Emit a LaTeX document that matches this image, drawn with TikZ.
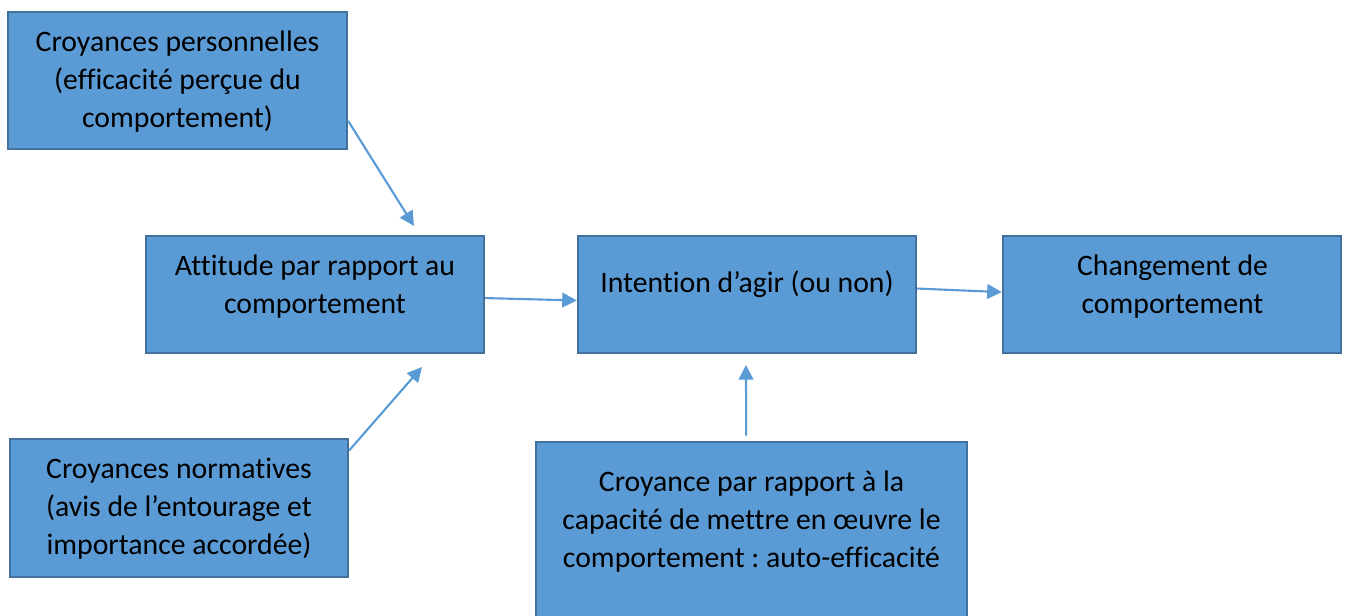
\documentclass[tikz,border=0pt]{standalone}
\usepackage{fontspec}
\setmainfont{Carlito}[Ligatures=NoCommon]
\usepackage{tikz}
\usetikzlibrary{arrows.meta}
\usetikzlibrary{calc}
\usetikzlibrary{fit}
\definecolor{boxfill}{HTML}{5B9BD5}
\definecolor{boxline}{HTML}{41719C}
\frenchspacing

\begin{document}
\begin{tikzpicture}[x=0.75pt,y=-0.75pt,
    box/.style={draw=boxline, fill=boxfill, line width=1.7pt, inner sep=0pt},
    txt/.style={align=center, anchor=north, inner sep=0pt, font=\fontsize{22.3}{28.5}\selectfont},
    arr/.style={draw=boxfill, line width=1.6pt, -{Triangle[length=11pt,width=11pt]}}]
    \useasboundingbox (0,0) rectangle (1347,615);
    \clip (0,0) rectangle (1347,615);
    % boxes
    \node[box, fit={(8,12) (347,149)}] (perso) {};
    \node[box, fit={(146,236) (484,353)}] (attitude) {};
    \node[box, fit={(578,236) (916,353)}] (intention) {};
    \node[box, fit={(1003,236) (1341,353)}] (changement) {};
    \node[box, fit={(10,439) (348,577)}] (normes) {};
    \node[box, fit={(536,442) (967,640)}] (capacite) {};
    % texts
    \node[txt] (persoT) at (177.5,25) {\strut Croyances personnelles\\(efficacité perçue du\\comportement)};
    \node[txt] (attitudeT) at (315,249) {\strut Attitude par rapport au\\comportement};
    \node[txt] (intentionT) at (747,266) {\strut Intention d’agir (ou non)};
    \node[txt] (changementT) at (1172.5,249) {\strut Changement de\\comportement};
    \node[txt] (normesT) at (179,452) {\strut Croyances normatives\\(avis de l’entourage et\\importance accordée)};
    \node[txt] (capaciteT) at (751.5,465) {\strut Croyance par rapport à la\\capacité de mettre en œuvre le\\comportement : auto-efficacité};
    % arrows
    \coordinate (persoTip) at (414,226);
    \coordinate (normesTip) at (422,367);
    \coordinate (capaciteTip) at (746,365);
    \draw[arr] ($(perso.north east)!0.79!(perso.south east)$) -- (persoTip);
    \draw[arr] ($(normes.north east)!0.09!(normes.south east)$) -- (normesTip);
    \draw[arr] ($(attitude.north east)!0.53!(attitude.south east)$) -- ($(intention.north west)!0.55!(intention.south west)$);
    \draw[arr] ($(intention.north east)!0.45!(intention.south east)$) -- ($(changement.north west)!0.48!(changement.south west)$);
    \draw[arr] ([xshift=-4pt,yshift=4pt]capacite.north) -- (capaciteTip);
\end{tikzpicture}
\end{document}
